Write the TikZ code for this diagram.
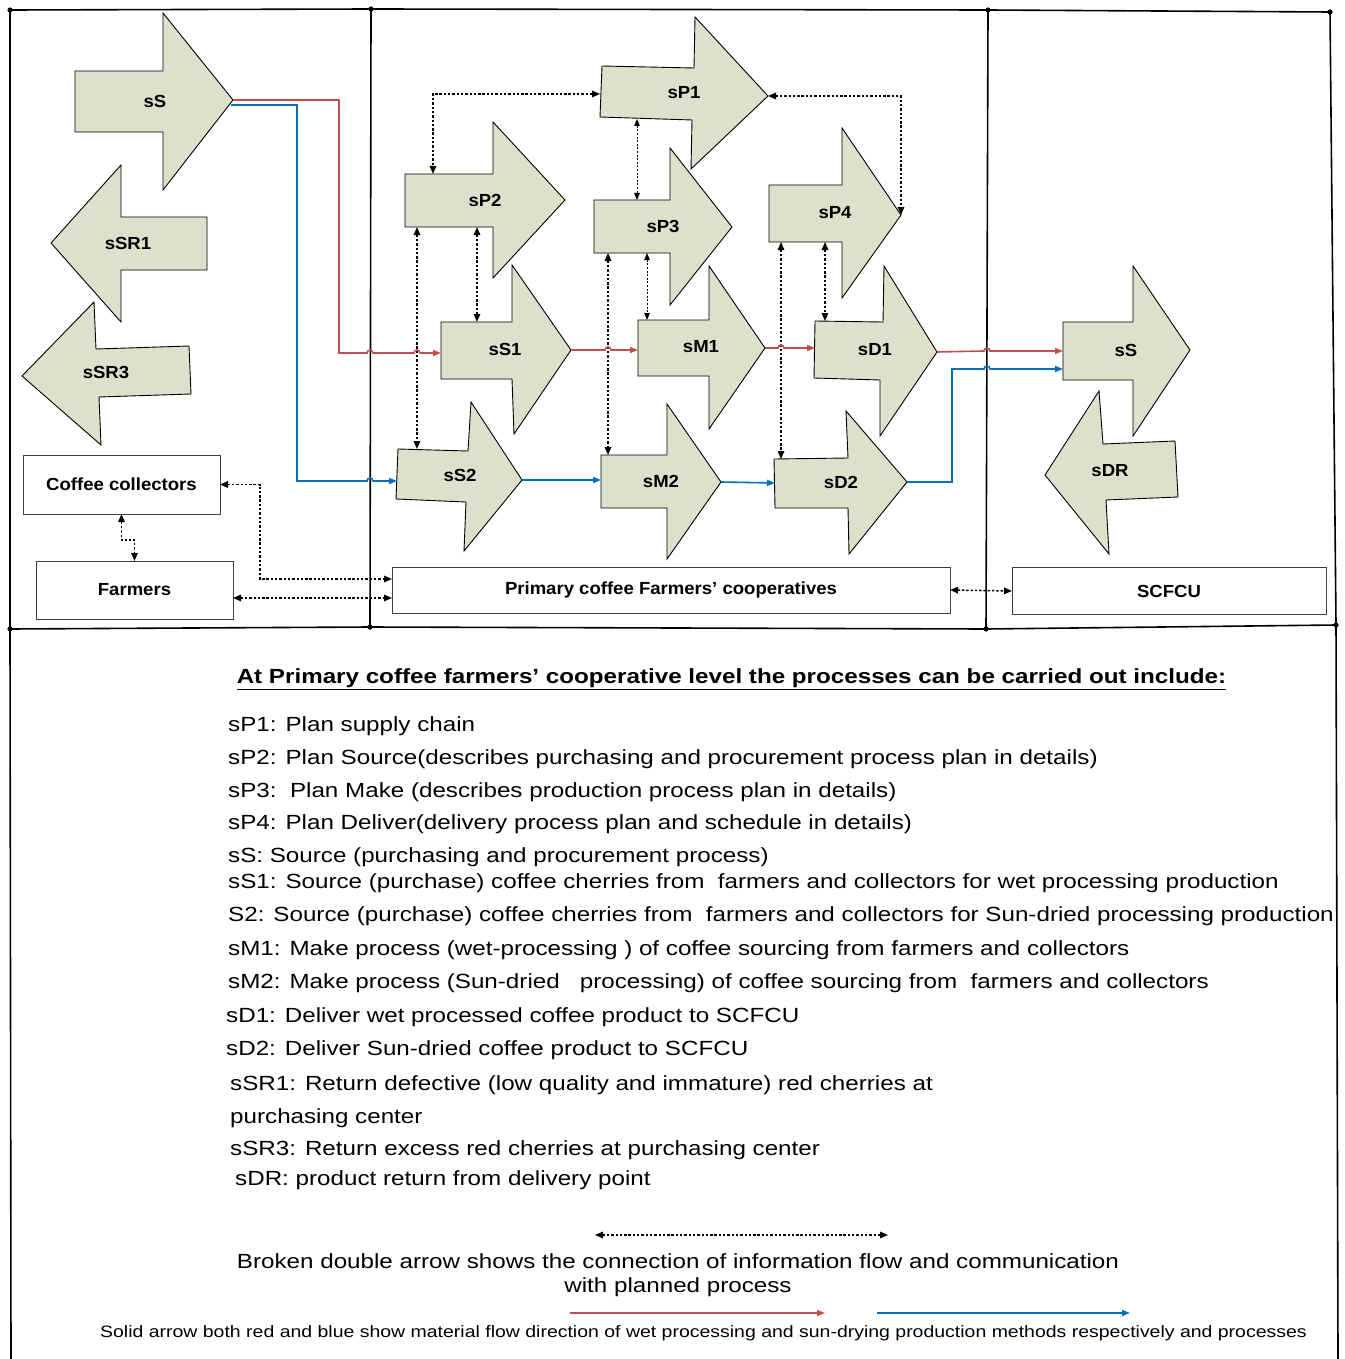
\documentclass[tikz,border=0pt]{standalone}
\usepackage{fontspec}
\setmainfont{Liberation Sans}
\newfontfamily\bodyfont[FakeStretch=1.18]{Liberation Sans}
\newfontfamily\labelfont[FakeStretch=1.06]{Liberation Sans}
\usetikzlibrary{arrows.meta}
\definecolor{arrfill}{RGB}{221,224,203}
\definecolor{wetred}{RGB}{192,80,77}
\definecolor{dryblue}{RGB}{0,112,192}

\begin{document}
\begin{tikzpicture}[x=1pt,y=-1pt,
  blk/.style={draw=black, fill=arrfill, line width=0.9pt, line join=miter},
  lbl/.style={font=\labelfont\bfseries\fontsize{17.5}{20}\selectfont, inner sep=0pt},
  box/.style={draw=black!75, fill=white, line width=0.9pt, inner sep=0pt, outer sep=0pt,
              font=\labelfont\bfseries\fontsize{17.5}{20}\selectfont},
  frame/.style={line width=1.6pt, black},
  jdot/.style={fill=black, radius=2.6pt},
  info/.style={line width=1.5pt, dash pattern=on 2.4pt off 1.9pt, {Triangle[length=8pt,width=6.5pt]}-{Triangle[length=8pt,width=6.5pt]}},
  infothin/.style={line width=1pt, dash pattern=on 2pt off 1.6pt, {Triangle[length=7pt,width=5.5pt]}-{Triangle[length=7pt,width=5.5pt]}},
  wet/.style={draw=wetred, line width=1.6pt, -{Triangle[length=8pt,width=6pt]}},
  dry/.style={draw=dryblue, line width=1.6pt, -{Triangle[length=8pt,width=6pt]}},
  body/.style={font=\bodyfont\fontsize{20.5}{24}\selectfont, inner sep=0pt, anchor=west},
  small/.style={font=\bodyfont\fontsize{16.5}{19}\selectfont, inner sep=0pt}
]
\useasboundingbox (0,0) rectangle (1344,1359);

% ---------- frame ----------
\coordinate (fA) at (10,10);   \coordinate (fB) at (371,9);
\coordinate (fC) at (988,10);  \coordinate (fD) at (1330,12);
\coordinate (fE) at (10,629);  \coordinate (fF) at (370,627);
\coordinate (fG) at (986,629); \coordinate (fH) at (1336,625);
\coordinate (fL) at (11,1359); \coordinate (fR) at (1338,1359);
\draw[frame] (fA) -- (fB) -- (fC) -- (fD) -- (fH) -- (fR);
\draw[frame] (fA) -- (fE) -- (fL);
\draw[frame] (fE) -- (fF) -- (fG) -- (fH);
\draw[frame] (fB) -- (fF);
\draw[frame] (fC) -- (fG);
\foreach \p in {fA,fB,fC,fD,fE,fF,fG,fH} \fill[jdot] (\p) circle;

% ---------- block arrows, left panel ----------
\draw[blk] (75,71) -- (163,71) -- (163,13) -- (233,100) -- (163,190) -- (163,132) -- (75,132) -- cycle;
\node[lbl] (sS) at (155,101) {sS};
\coordinate (sS-tip) at (233,100);
\coordinate (sS-tip2) at (231,105);

\draw[blk] (207,217) -- (121,217) -- (121,165) -- (51,243) -- (121,322) -- (121,270) -- (207,270) -- cycle;
\node[lbl] (sSR1) at (128,243) {sSR1};

\draw[blk] (189,346) -- (96,349) -- (94,302) -- (22,376) -- (101,445) -- (99,397) -- (191,394) -- cycle;
\node[lbl] (sSR3) at (106,372) {sSR3};

% ---------- block arrows, cooperative panel ----------
\draw[blk] (602,66) -- (694,68) -- (695,17) -- (768,96) -- (691,169) -- (692,120) -- (600,117) -- cycle;
\node[lbl] (sP1) at (684,93) {sP1};

\draw[blk] (405,174) -- (493,174) -- (493,122) -- (565,200) -- (493,278) -- (493,227) -- (405,227) -- cycle;
\node[lbl] (sP2) at (485,200) {sP2};

\draw[blk] (594,200) -- (670,200) -- (670,148) -- (732,227) -- (670,305) -- (670,253) -- (594,253) -- cycle;
\node[lbl] (sP3) at (663,226) {sP3};

\draw[blk] (769,185) -- (842,185) -- (842,128) -- (901,215) -- (842,298) -- (842,242) -- (769,242) -- cycle;
\node[lbl] (sP4) at (835,213) {sP4};

\draw[blk] (441,322) -- (512,322) -- (512,265) -- (571,350) -- (514,434) -- (512,379) -- (441,379) -- cycle;
\node[lbl] (sS1) at (505,349) {sS1};

\draw[blk] (638,320) -- (709,320) -- (709,266) -- (765,348) -- (709,429) -- (709,376) -- (638,376) -- cycle;
\node[lbl] (sM1) at (701,347) {sM1};

\draw[blk] (815,321) -- (883,322) -- (884,266) -- (937,352) -- (880,436) -- (880,380) -- (814,378) -- cycle;
\node[lbl] (sD1) at (875,350) {sD1};

\draw[blk] (398,449) -- (468,451) -- (471,402) -- (522,480) -- (464,551) -- (466,502) -- (396,499) -- cycle;
\node[lbl] (sS2) at (460,475) {sS2};

\draw[blk] (601,455) -- (667,455) -- (667,404) -- (721,482) -- (667,559) -- (667,508) -- (601,508) -- cycle;
\node[lbl] (sM2) at (661,481) {sM2};

\draw[blk] (774,459) -- (848,458) -- (846,411) -- (907,482) -- (849,554) -- (848,508) -- (775,508) -- cycle;
\node[lbl] (sD2) at (841,482) {sD2};

% ---------- block arrows, union panel ----------
\draw[blk] (1063,322) -- (1133,322) -- (1133,266) -- (1190,350) -- (1133,436) -- (1133,380) -- (1063,380) -- cycle;
\node[lbl] (sSu) at (1126,350) {sS};

\draw[blk] (1175,441) -- (1103,444) -- (1099,391) -- (1045,475) -- (1109,554) -- (1106,500) -- (1178,497) -- cycle;
\node[lbl] (sDR) at (1110,471) {sDR};

% ---------- actor boxes ----------
\node[box, minimum width=197pt, minimum height=59pt] (coll) at (121.5,484.5) {Coffee collectors};
\node[box, minimum width=197pt, minimum height=58pt] (farm) at (134.5,590) {Farmers};
\node[box, minimum width=558pt, minimum height=46pt] (pfc) at (671,590) {Primary coffee Farmers’ cooperatives};
\node[box, minimum width=314pt, minimum height=47pt] (scfcu) at (1169,591) {SCFCU};

% ---------- anchor points on the block arrows ----------
\coordinate (sP1-w)  at (600,94);   \coordinate (sP1-tip) at (768,96);
\coordinate (sP1-s)  at (637,119);
\coordinate (sP2-n)  at (433,174);  \coordinate (sP2-s1) at (417,227); \coordinate (sP2-s2) at (477,227);
\coordinate (sP3-n)  at (637,200);  \coordinate (sP3-s1) at (608,253); \coordinate (sP3-s2) at (647,253);
\coordinate (sP4-tip) at (901,215); \coordinate (sP4-s1) at (781,242); \coordinate (sP4-s2) at (825,242);
\coordinate (sS1-n)  at (477,322);  \coordinate (sS1-w) at (441,353);  \coordinate (sS1-tip) at (571,350);
\coordinate (sM1-n)  at (647,320);  \coordinate (sM1-w) at (638,350);  \coordinate (sM1-tip) at (765,348);
\coordinate (sD1-n)  at (825,321);  \coordinate (sD1-w) at (815,348);  \coordinate (sD1-tip) at (937,352);
\coordinate (sS2-n)  at (417,449);  \coordinate (sS2-w) at (397,481);  \coordinate (sS2-tip) at (522,480);
\coordinate (sM2-n)  at (608,455);  \coordinate (sM2-w) at (601,480);  \coordinate (sM2-tip) at (721,482);
\coordinate (sD2-n)  at (781,459);  \coordinate (sD2-w) at (775,483);  \coordinate (sD2-tip) at (907,482);
\coordinate (sSu-w1) at (1063,351); \coordinate (sSu-w2) at (1063,369);

% ---------- information flow (dotted, two-headed) ----------
\draw[info] (sP1-w) -| (sP2-n);
\draw[info] (sP1-tip) -| (sP4-tip);
\draw[infothin] (sP1-s) -- (sP3-n);
\draw[info] (sP2-s2) -- (sS1-n);
\draw[info] (sP2-s1) -- (sS2-n);
\draw[infothin] (sP3-s2) -- (sM1-n);
\draw[info] (sP3-s1) -- (sM2-n);
\draw[info] (sP4-s2) -- (sD1-n);
\draw[info] (sP4-s1) -- (sD2-n);
\draw[info] (coll.east) -- (260,484.5) |- ([yshift=11pt]pfc.west);
\draw[info] ([yshift=-8pt]farm.east) -- ([yshift=-8pt]pfc.west);
\draw[info] (coll.south) |- ([yshift=21pt]farm.north) -- (farm.north);
\draw[info] (pfc.east) -- (scfcu.west);

% ---------- material flow: wet processing (red) ----------
\draw[wet] (sS-tip) -- (339,100) -- (339,353) -- (367,353) arc[start angle=180,end angle=360,radius=3]
  -- (414,353) arc[start angle=180,end angle=360,radius=3] -- (sS1-w);
\draw[wet] (sS1-tip) -- (605,350) arc[start angle=180,end angle=360,radius=3] -- (sM1-w);
\draw[wet] (sM1-tip) -- (778,348) arc[start angle=180,end angle=360,radius=3] -- (sD1-w);
\draw[wet] (sD1-tip) -- (984,351) arc[start angle=180,end angle=360,radius=3] -- (sSu-w1);

% ---------- material flow: sun-drying (blue) ----------
\draw[dry] (sS-tip2) -- (297,105) -- (297,481) -- (367,481) arc[start angle=180,end angle=360,radius=3] -- (sS2-w);
\draw[dry] (sS2-tip) -- (sM2-w);
\draw[dry] (sM2-tip) -- (sD2-w);
\draw[dry] (sD2-tip) -- (952,482) -- (952,369) -- (984,369) arc[start angle=180,end angle=360,radius=3] -- (sSu-w2);

% ---------- process descriptions ----------
\node[font=\bodyfont\bfseries\fontsize{20.5}{24}\selectfont, inner sep=0pt] (head) at (731.5,679)
  {\underline{At Primary coffee farmers’ cooperative level the processes can be carried out include:}};
\node[body] (t1)  at (228,726)  {sP1: Plan supply chain};
\node[body] (t2)  at (228,759)  {sP2: Plan Source(describes purchasing and procurement process plan in details)};
\node[body] (t3)  at (228,792)  {sP3:\ \ Plan Make (describes production process plan in details)};
\node[body] (t4)  at (228,824)  {sP4: Plan Deliver(delivery process plan and schedule in details)};
\node[body] (t5)  at (228,857)  {sS: Source (purchasing and procurement process)};
\node[body] (t6)  at (228,883)  {sS1: Source (purchase) coffee cherries from\ \ farmers and collectors for wet processing production};
\node[body] (t7)  at (228,916)  {S2: Source (purchase) coffee cherries from\ \ farmers and collectors for Sun-dried processing production};
\node[body] (t8)  at (228,950)  {sM1: Make process (wet-processing ) of coffee sourcing from farmers and collectors};
\node[body] (t9)  at (228,983)  {sM2: Make process (Sun-dried\ \ \ processing) of coffee sourcing from\ \ farmers and collectors};
\node[body] (t10) at (226,1017) {sD1: Deliver wet processed coffee product to SCFCU};
\node[body] (t11) at (226,1050) {sD2: Deliver Sun-dried coffee product to SCFCU};
\node[body] (t12) at (230,1085) {sSR1: Return defective (low quality and immature) red cherries at};
\node[body] (t13) at (230,1118) {purchasing center};
\node[body] (t14) at (230,1150) {sSR3: Return excess red cherries at purchasing center};
\node[body] (t15) at (235,1180) {sDR: product return from delivery point};

% ---------- legend ----------
\coordinate (lgA) at (595,1235); \coordinate (lgB) at (888,1235);
\draw[info] (lgA) -- (lgB);
\node[font=\bodyfont\fontsize{20.5}{24}\selectfont, inner sep=0pt] (lg1) at (678,1261)
  {Broken double arrow shows the connection of information flow and communication};
\node[font=\bodyfont\fontsize{20.5}{24}\selectfont, inner sep=0pt] (lg2) at (678,1287) {with planned process};
\coordinate (lrA) at (570,1313); \coordinate (lrB) at (825,1313);
\coordinate (lbA) at (877,1313); \coordinate (lbB) at (1130,1313);
\draw[wet] (lrA) -- (lrB);
\draw[dry] (lbA) -- (lbB);
\node[small] (lg3) at (703.5,1333)
  {Solid arrow both red and blue show material flow direction of wet processing and sun-drying production methods respectively and processes};
\end{tikzpicture}
\end{document}
